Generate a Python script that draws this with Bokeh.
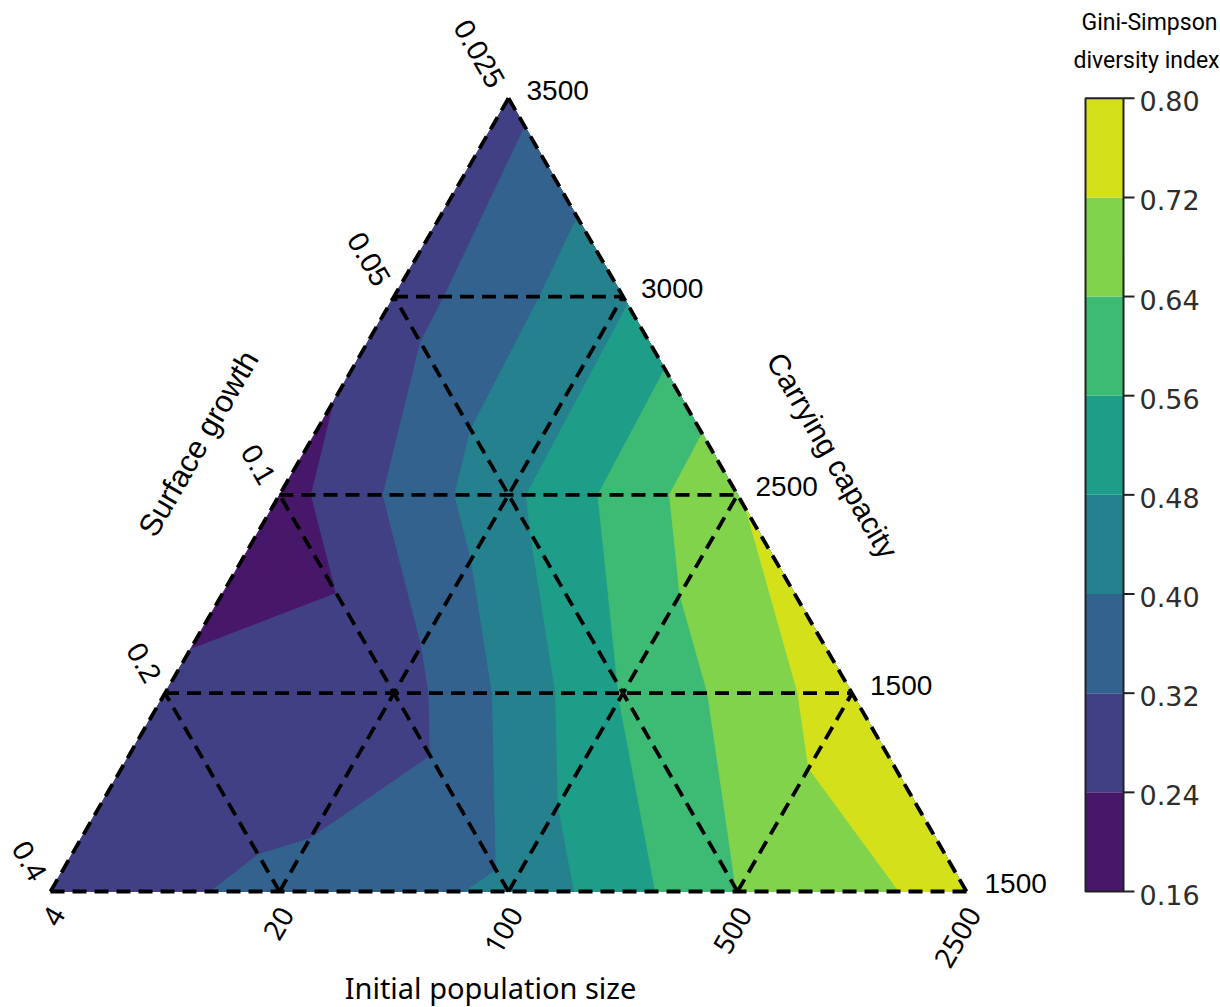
import math

from bokeh.core.properties import value
from bokeh.embed import file_html
from bokeh.models import Range1d
from bokeh.palettes import Viridis256
from bokeh.plotting import figure
from bokeh.resources import INLINE

# Gini-Simpson diversity index at the nodes of the triangular design.
# One list per horizontal row (carrying capacity), left to right.
row_cc3500 = [0.295]
row_cc3000 = [0.278, 0.470]
row_cc2500 = [0.2045, 0.460, 0.716]
row_cc1500_upper = [0.250, 0.276, 0.565, 0.768]
row_cc1500_lower = [0.283, 0.336, 0.415, 0.641, 0.753]

levels = [0.16, 0.24, 0.32, 0.40, 0.48, 0.56, 0.64, 0.72, 0.80]

bottom_ticks = ["4", "20", "100", "500", "2500"]          # initial population size
left_ticks = ["0.025", "0.05", "0.1", "0.2", "0.4"]       # surface growth, top to bottom
right_ticks = ["3500", "3000", "2500", "1500", "1500"]    # carrying capacity, top to bottom

rows = [row_cc3500, row_cc3000, row_cc2500, row_cc1500_upper, row_cc1500_lower]
N = len(rows) - 1
H = math.sqrt(3) / 2
PX = 916.0  # pixels per data unit (triangle side = 1)


def node(r, k):
    return 0.5 + (k - r / 2) / N, (N - r) / N * H


# viridis colour for each band, sampled at band midpoints
n_bands = len(levels) - 1
band_colors = [Viridis256[int(round((i + 0.5) / n_bands * 255))] for i in range(n_bands)]

p = figure(
    width=1220, height=1007,
    x_range=Range1d(-50 / PX, 1170 / PX),
    y_range=Range1d(-116 / PX, 891 / PX),
    x_axis_location=None, y_axis_location=None,
    toolbar_location=None, output_backend="svg",
    min_border=0,
)
p.grid.visible = False
p.outline_line_color = None
p.background_fill_color = "white"
p.border_fill_color = "white"

# ---- linear interpolation on the triangular mesh -> filled bands ----
tris = []
for r in range(N):
    for k in range(r + 1):
        tris.append([(r, k), (r + 1, k), (r + 1, k + 1)])
    for k in range(r):
        tris.append([(r, k), (r, k + 1), (r + 1, k + 1)])


def clip_ge(poly, t):
    out = []
    n = len(poly)
    for i in range(n):
        P = poly[i]
        Q = poly[(i + 1) % n]
        pin = P[2] >= t
        qin = Q[2] >= t
        if pin:
            out.append(P)
        if pin != qin:
            f = (t - P[2]) / (Q[2] - P[2])
            out.append((P[0] + f * (Q[0] - P[0]), P[1] + f * (Q[1] - P[1]), t))
    return out


tri_polys = []
for tri in tris:
    pts = []
    for (r, k) in tri:
        x, y = node(r, k)
        pts.append((x, y, rows[r][k]))
    tri_polys.append(pts)

for i in range(n_bands):
    xs, ys = [], []
    for poly in tri_polys:
        clipped = poly if i == 0 else clip_ge(poly, levels[i])
        if len(clipped) >= 3:
            xs.append([c[0] for c in clipped])
            ys.append([c[1] for c in clipped])
    if xs:
        p.patches(xs=xs, ys=ys, fill_color=band_colors[i],
                  line_color=band_colors[i], line_width=0.8)

# ---- dashed triangular grid ----
gx, gy = [], []


def seg(a, b):
    x0, y0 = node(*a)
    x1, y1 = node(*b)
    gx.append([x0, x1])
    gy.append([y0, y1])


seg((0, 0), (N, 0))
seg((0, 0), (N, N))
seg((N, 0), (N, N))
for r in range(1, N):
    seg((r, 0), (r, r))                 # horizontal
for k in range(1, N):
    seg((N, k), (N - k, 0))             # parallel to the right side
    seg((N, k), (k, k))                 # parallel to the left side
p.multi_line(xs=gx, ys=gy, line_color="black", line_width=3.8, line_dash="14 8")


def label(x, y, text, angle_deg, align, baseline, font, size, color="black"):
    p.text(x=[x], y=[y], text=[text], angle=math.radians(angle_deg),
           text_align=value(align), text_baseline=value(baseline),
           text_font=value(font), text_font_size=value(size), text_color=color)


TICK_FONT = "Liberation Sans"

# carrying capacity, right side
for r, t in enumerate(right_ticks):
    x, y = node(r, r)
    label(x + 18 / PX, y + 8 / PX, t, 0, "left", "middle", TICK_FONT, "28px")

# surface growth, left side
for r, t in enumerate(left_ticks):
    x, y = node(r, 0)
    label(x - 11 / PX, y + 13 / PX, t, -60, "right", "middle", TICK_FONT, "29px")

# initial population size, bottom
for k, t in enumerate(bottom_ticks):
    x, y = node(N, k)
    label(x + 7 / PX, y - 18 / PX, t, 60, "right", "middle", "Noto Sans", "28px")

# axis titles
label((198 - 50) / PX, (891 - 443) / PX, "Surface growth", 60, "center", "middle",
      TICK_FONT, "31px")
label((832 - 50) / PX, (891 - 455) / PX, "Carrying capacity", -60, "center", "middle",
      TICK_FONT, "30px")
label((490 - 50) / PX, (891 - 987) / PX, "Initial population size", 0, "center", "middle",
      "Noto Sans", "29px")

# ---- colour bar ----
cb_l = (1085 - 50) / PX
cb_r = (1123 - 50) / PX


def lev_y(v):
    return (v - levels[0]) / (levels[-1] - levels[0]) * H


p.quad(left=cb_l, right=cb_r,
       bottom=[lev_y(v) for v in levels[:-1]],
       top=[lev_y(v) for v in levels[1:]],
       fill_color=band_colors, line_color=None)
p.quad(left=[cb_l], right=[cb_r], bottom=[lev_y(levels[0])], top=[lev_y(levels[-1])],
       fill_color=None, line_color="#222222", line_width=2)
p.segment(x0=[cb_r] * len(levels), y0=[lev_y(v) for v in levels],
          x1=[cb_r + 11 / PX] * len(levels), y1=[lev_y(v) for v in levels],
          line_color="#222222", line_width=2)
for v in levels:
    label(cb_r + 16 / PX, lev_y(v) - 3 / PX, f"{v:.2f}", 0, "left", "middle",
          "DejaVu Sans", "27px", color="#2e2e2e")

label((1149 - 50) / PX, (891 - 22) / PX, "Gini-Simpson", 0, "center", "middle",
      "Roboto", "23px")
label((1146 - 50) / PX, (891 - 60) / PX, "diversity index", 0, "center", "middle",
      "Roboto", "23px")

open("out.html", "w").write(file_html(p, INLINE))
